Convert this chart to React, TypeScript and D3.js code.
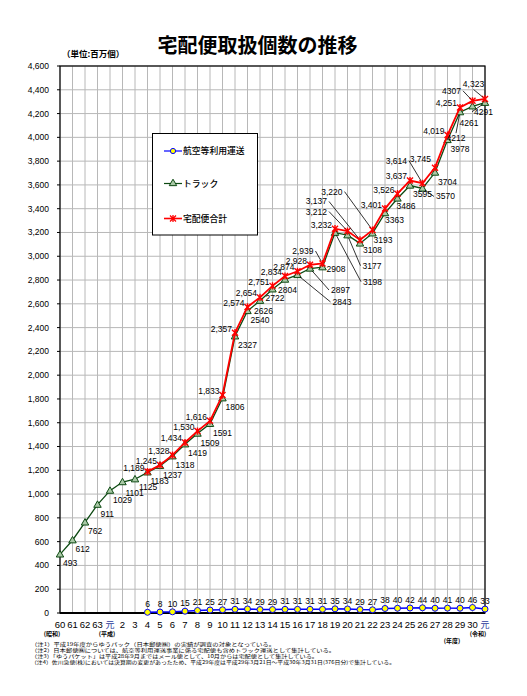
import { useRef, useEffect } from "react";
import * as d3 from "d3";

// 年度（昭和60年度〜令和元年度）
const categories = [
  "60", "61", "62", "63", "元", "2", "3", "4", "5", "6", "7", "8", "9", "10",
  "11", "12", "13", "14", "15", "16", "17", "18", "19", "20", "21", "22", "23",
  "24", "25", "26", "27", "28", "29", "30", "元",
];

// 百万個
const airValues: (number | null)[] = [
  null, null, null, null, null, null, null,
  6, 8, 10, 15, 21, 25, 27, 31, 34, 29, 29, 31, 31, 31, 31, 35, 34, 29, 27,
  38, 40, 42, 44, 40, 41, 40, 46, 33,
];

const truckValues: number[] = [
  493, 612, 762, 911, 1029, 1101, 1125, 1183, 1237, 1318, 1419, 1509, 1591,
  1806, 2327, 2540, 2626, 2722, 2804, 2843, 2897, 2908, 3198, 3177, 3108, 3193,
  3363, 3486, 3595, 3570, 3704, 3978, 4212, 4261, 4291,
];

const totalValues: (number | null)[] = [
  null, null, null, null, null, null, null,
  1189, 1245, 1328, 1434, 1530, 1616, 1833, 2357, 2574, 2654, 2751, 2834, 2874,
  2928, 2939, 3232, 3212, 3137, 3220, 3401, 3526, 3637, 3614, 3745, 4019, 4251,
  4307, 4323,
];

const yTicks = d3.range(0, 4601, 200);

const seriesNames = ["航空等利用運送", "トラック", "宅配便合計"];

const notes = [
  "（注1）平成19年度からゆうパック（日本郵便㈱）の実績が調査の対象となっている。",
  "（注2）日本郵便㈱については、航空等利用運送事業に係る宅配便も含めトラック運送として集計している。",
  "（注3）「ゆうパケット」は平成28年9月まではメール便として、10月からは宅配便として集計している。",
  "（注4）佐川急便(株)においては決算期の変更があったため、平成29年度は平成29年3月21日～平成30年3月31日(376日分)で集計している。",
];
const noteWidths = [244, 304, 287, 364];

// label placement tweaks (px from the point)
type LabelPos = { anchor?: string; dx: number; dy: number; leader?: boolean; plain?: boolean };
const totalLabelPos: Record<number, LabelPos> = {
  21: { anchor: "end", dx: -9, dy: -12.5, leader: true },
  23: { anchor: "end", dx: -20.5, dy: -19.5, leader: true },
  24: { anchor: "end", dx: -33, dy: -38.5, leader: true },
  25: { anchor: "end", dx: -30, dy: -38.5, leader: true },
  29: { anchor: "end", dx: -15.5, dy: -22.5, leader: true },
  30: { anchor: "end", dx: -4, dy: -9 },
  33: { anchor: "end", dx: -11.5, dy: -10, leader: true, plain: true },
  34: { anchor: "middle", dx: -11.5, dy: -14.5, leader: true },
};
const truckLabelPos: Record<number, LabelPos> = {
  5: { dx: 3, dy: 10.5 },
  6: { dx: 4, dy: 8 },
  16: { dx: -6, dy: 10 },
  17: { dx: -7, dy: 9 },
  18: { dx: -7, dy: 10 },
  19: { dx: 35, dy: 27, leader: true },
  20: { dx: 21, dy: 21.5, leader: true },
  21: { dx: 4, dy: 2 },
  22: { dx: 28, dy: 49, leader: true },
  23: { dx: 15, dy: 30.5, leader: true },
  24: { dx: 3, dy: 6.5 },
  25: { dx: 1, dy: 6.5 },
  26: { dx: 0, dy: 6.5 },
  27: { dx: -1, dy: 8 },
  29: { dx: 13.5, dy: 8, leader: true },
  32: { anchor: "middle", dx: -4, dy: 26, leader: true },
  33: { dx: -13, dy: 17 },
  34: { dx: -11, dy: 9, leader: true },
};

const W = 527;
const H = 696;
const plot = { left: 60, right: 485, top: 66, bottom: 613 };
const NUM_FONT = "'Liberation Sans', Arial, sans-serif";
const JP_FONT = "'Noto Sans CJK JP', sans-serif";

const App = () => {
  const svgRef = useRef<SVGSVGElement>(null);

  useEffect(() => {
    if (!svgRef.current) return;
    const svg = d3.select(svgRef.current);
    svg.selectAll("*").remove();

    const x = d3
      .scalePoint<number>()
      .domain(d3.range(categories.length))
      .range([plot.left, plot.right]);
    const y = d3.scaleLinear().domain([0, 4600]).range([plot.bottom, plot.top]);

    const g = svg.append("g");

    // grid
    g.selectAll("line.hgrid")
      .data(yTicks)
      .enter()
      .append("line")
      .attr("x1", plot.left)
      .attr("x2", plot.right)
      .attr("y1", (d) => y(d))
      .attr("y2", (d) => y(d))
      .attr("stroke", "#b8b8b8")
      .attr("stroke-width", 1);
    g.selectAll("line.vgrid")
      .data(d3.range(categories.length))
      .enter()
      .append("line")
      .attr("x1", (d) => x(d)!)
      .attr("x2", (d) => x(d)!)
      .attr("y1", plot.top)
      .attr("y2", plot.bottom)
      .attr("stroke", "#b8b8b8")
      .attr("stroke-width", 1);

    // frame
    g.append("rect")
      .attr("x", plot.left)
      .attr("y", plot.top)
      .attr("width", plot.right - plot.left)
      .attr("height", plot.bottom - plot.top)
      .attr("fill", "none")
      .attr("stroke", "#000")
      .attr("stroke-width", 1.2);
    g.append("line")
      .attr("x1", plot.left)
      .attr("x2", plot.right)
      .attr("y1", plot.bottom)
      .attr("y2", plot.bottom)
      .attr("stroke", "#000")
      .attr("stroke-width", 1.8);

    // y axis
    const yAxis = g.append("g");
    yTicks.forEach((t) => {
      yAxis
        .append("line")
        .attr("x1", plot.left - 3)
        .attr("x2", plot.left)
        .attr("y1", y(t))
        .attr("y2", y(t))
        .attr("stroke", "#000");
      yAxis
        .append("text")
        .attr("x", 49)
        .attr("y", y(t))
        .attr("dy", "0.35em")
        .attr("text-anchor", "end")
        .attr("font-family", NUM_FONT)
        .attr("font-size", 8.5)
        .text(d3.format(",")(t));
    });

    // x axis labels
    categories.forEach((c, i) => {
      g.append("text")
        .attr("x", x(i)!)
        .attr("y", 625)
        .attr("dy", "0.35em")
        .attr("text-anchor", "middle")
        .attr("font-family", c === "元" ? JP_FONT : NUM_FONT)
        .attr("font-size", c === "元" ? 9 : 9.5)
        .attr("fill", c === "元" ? "#2a3a9c" : "#000")
        .text(c);
    });
    const era = [
      { t: "(昭和)", x: 52, y: 634 },
      { t: "(平成)", x: 107, y: 634 },
      { t: "(令和)", x: 478, y: 634 },
      { t: "(年度)", x: 452, y: 641 },
    ];
    era.forEach((e) =>
      g
        .append("text")
        .attr("x", e.x)
        .attr("y", e.y)
        .attr("dy", "0.35em")
        .attr("text-anchor", "middle")
        .attr("font-family", JP_FONT)
        .attr("font-size", 6)
        .attr("font-weight", "bold")
        .text(e.t)
    );

    const lineOf = (vals: (number | null)[]) =>
      d3
        .line<number | null>()
        .defined((d) => d !== null)
        .x((_, i) => x(i)!)
        .y((d) => y(d as number))(vals);

    const pts = (vals: (number | null)[]) =>
      vals
        .map((v, i) => ({ v, i }))
        .filter((d): d is { v: number; i: number } => d.v !== null);

    // air
    g.append("path")
      .attr("d", lineOf(airValues)!)
      .attr("fill", "none")
      .attr("stroke", "#0000ff")
      .attr("stroke-width", 1.5);
    g.selectAll("circle.air")
      .data(pts(airValues))
      .enter()
      .append("circle")
      .attr("cx", (d) => x(d.i)!)
      .attr("cy", (d) => y(d.v))
      .attr("r", 3)
      .attr("fill", "#ffff00")
      .attr("stroke", "#0000ff")
      .attr("stroke-width", 1);

    // truck
    const truckColor = "#0d4a12";
    g.append("path")
      .attr("d", lineOf(truckValues)!)
      .attr("fill", "none")
      .attr("stroke", truckColor)
      .attr("stroke-width", 1.3);
    const tri = d3.symbol().type(d3.symbolTriangle).size(24)();
    g.selectAll("path.truck")
      .data(pts(truckValues))
      .enter()
      .append("path")
      .attr("d", tri!)
      .attr("transform", (d) => `translate(${x(d.i)},${y(d.v) + 0.5})`)
      .attr("fill", "#a9c8a6")
      .attr("stroke", truckColor)
      .attr("stroke-width", 1);

    // total
    const red = "#ff0000";
    const star = "M-3,-3L3,3M-3,3L3,-3M0,-3.6L0,3.6";
    g.append("path")
      .attr("d", lineOf(totalValues)!)
      .attr("fill", "none")
      .attr("stroke", red)
      .attr("stroke-width", 1.8);
    g.selectAll("path.total")
      .data(pts(totalValues))
      .enter()
      .append("path")
      .attr("d", star)
      .attr("transform", (d) => `translate(${x(d.i)},${y(d.v)})`)
      .attr("fill", "none")
      .attr("stroke", red)
      .attr("stroke-width", 1.4);

    // labels
    const labels = g.append("g").attr("font-family", NUM_FONT).attr("font-size", 8.5);

    const drawLabel = (
      px: number,
      py: number,
      text: string,
      pos: LabelPos,
      defAnchor: string
    ) => {
      const anchor = pos.anchor ?? defAnchor;
      const lx = px + pos.dx;
      const ly = py + pos.dy;
      if (pos.leader) {
        let sx = lx;
        let sy = ly;
        if (anchor === "end") sx = lx + 2;
        else if (anchor === "start") sx = lx - 2;
        else sy = pos.dy > 0 ? ly - 5 : ly + 5;
        const ang = Math.atan2(py - sy, px - sx);
        labels
          .append("path")
          .attr(
            "d",
            `M${sx},${sy}L${px - Math.cos(ang) * 3},${py - Math.sin(ang) * 3}`
          )
          .attr("stroke", "#000")
          .attr("stroke-width", 0.8)
          .attr("fill", "none");
      }
      labels
        .append("text")
        .attr("x", lx)
        .attr("y", ly)
        .attr("dy", "0.35em")
        .attr("text-anchor", anchor)
        .text(text);
    };

    pts(truckValues).forEach((d) => {
      const pos = truckLabelPos[d.i] ?? { dx: 3, dy: 9 };
      drawLabel(x(d.i)!, y(d.v), String(d.v), pos, "start");
    });
    pts(totalValues).forEach((d) => {
      const pos = totalLabelPos[d.i] ?? { dx: -3, dy: -4 };
      const txt = pos.plain ? String(d.v) : d3.format(",")(d.v);
      drawLabel(x(d.i)!, y(d.v), txt, pos, "end");
    });
    pts(airValues).forEach((d) => {
      labels
        .append("text")
        .attr("x", x(d.i)!)
        .attr("y", y(d.v) - 8)
        .attr("dy", "0.35em")
        .attr("text-anchor", "middle")
        .text(String(d.v));
    });

    // legend
    const lg = g.append("g");
    lg.append("rect")
      .attr("x", 152.5)
      .attr("y", 133.5)
      .attr("width", 105)
      .attr("height", 101.5)
      .attr("fill", "#fff")
      .attr("stroke", "#000")
      .attr("stroke-width", 1);
    const legendY = [151, 183.5, 218.5];
    const legendColors = ["#0000ff", truckColor, red];
    seriesNames.forEach((name, k) => {
      const ly = legendY[k];
      lg.append("line")
        .attr("x1", 164)
        .attr("x2", 182)
        .attr("y1", ly)
        .attr("y2", ly)
        .attr("stroke", legendColors[k])
        .attr("stroke-width", k === 2 ? 1.6 : 1.2);
      if (k === 0) {
        lg.append("circle")
          .attr("cx", 173)
          .attr("cy", ly)
          .attr("r", 2.6)
          .attr("fill", "#ffff00")
          .attr("stroke", "#0000ff");
      } else if (k === 1) {
        lg.append("path")
          .attr("d", tri!)
          .attr("transform", `translate(173,${ly})`)
          .attr("fill", "#a9c8a6")
          .attr("stroke", truckColor);
      } else {
        lg.append("path")
          .attr("d", star)
          .attr("transform", `translate(173,${ly})`)
          .attr("fill", "none")
          .attr("stroke", red)
          .attr("stroke-width", 1.3);
      }
      lg.append("text")
        .attr("x", 183)
        .attr("y", ly)
        .attr("dy", "0.35em")
        .attr("font-family", JP_FONT)
        .attr("font-size", 8.8)
        .attr("font-weight", 500)
        .text(name);
    });

    // title & unit
    svg
      .append("text")
      .attr("x", 257.5)
      .attr("y", 46)
      .attr("dy", "0.35em")
      .attr("text-anchor", "middle")
      .attr("font-family", JP_FONT)
      .attr("font-size", 20)
      .attr("font-weight", "bold")
      .text("宅配便取扱個数の推移");
    svg
      .append("text")
      .attr("x", 62)
      .attr("y", 54.5)
      .attr("dy", "0.35em")
      .attr("font-family", JP_FONT)
      .attr("font-size", 8.5)
      .attr("font-weight", "bold")
      .text("（単位:百万個）");

    // notes
    notes.forEach((n, k) => {
      svg
        .append("text")
        .attr("x", 31)
        .attr("y", 644.5 + k * 6)
        .attr("dy", "0.35em")
        .attr("font-family", JP_FONT)
        .attr("font-size", 5)
        .attr("textLength", noteWidths[k])
        .attr("lengthAdjust", "spacingAndGlyphs")
        .text(n);
    });
  }, []);

  return (
    <svg
      ref={svgRef}
      width={W}
      height={H}
      style={{ position: "absolute", left: 0, top: 0, background: "#fff" }}
    />
  );
};

export default App;
